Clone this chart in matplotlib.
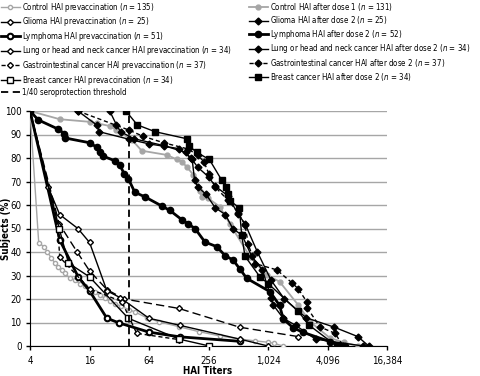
import matplotlib
matplotlib.use('Agg')
from matplotlib import pyplot as plt
from matplotlib import font_manager as fm
from matplotlib.lines import Line2D

# pick a narrow sans face if one is installed
prefer = ['Liberation Sans Narrow', 'DejaVu Sans', 'Roboto', 'Open Sans', 'Noto Sans', 'Liberation Sans']
narrow = [f for f in fm.fontManager.ttflist
          if (f.stretch in ('condensed', 'semi-condensed') or 'Narrow' in f.name or 'Condensed' in f.name)
          and f.style == 'normal']
narrow.sort(key=lambda f: prefer.index(f.name) if f.name in prefer else 99)
if narrow:
    fam, stretch = narrow[0].name, narrow[0].stretch
else:
    fam, stretch = 'Liberation Sans', 'normal'
plt.rcParams['font.family'] = [fam, 'DejaVu Sans']
plt.rcParams['font.stretch'] = stretch
plt.rcParams['mathtext.fontset'] = 'custom'
plt.rcParams['mathtext.it'] = fam + ':italic'
plt.rcParams['mathtext.rm'] = fam

# prevaccination curves (titer, % of subjects)
control_pre_x = [4, 4.9, 5.5, 6.0, 6.6, 7.1, 7.7, 8.4, 9.0, 10.1, 11.3, 12.8, 14.4, 16, 18, 20.4, 23, 25.6, 29, 33,
                 40, 46, 61, 81, 129, 205, 333, 528, 748, 1024, 1189, 1450]
control_pre_y = [100, 44, 42.3, 40, 37.3, 35.5, 33.8, 32.3, 30.9, 29, 28, 26.5, 25.5, 24, 23, 21.5, 20.3, 19, 18, 17,
                 15.5, 14.5, 12, 10.3, 8.2, 6.1, 4.3, 3, 2.2, 1.6, 1.1, 0]
glioma_pre_x = [4, 7.9, 12, 16, 24, 36, 128, 528, 2074]
glioma_pre_y = [100, 52, 40, 32, 24, 20, 16, 8, 4]
lymph_pre_x = [4, 8, 12.3, 16, 24, 32, 64, 131, 533]
lymph_pre_y = [100, 45.1, 29.4, 23.5, 11.8, 9.8, 5.9, 3.9, 2.0]
lung_pre_x = [4, 6.1, 8, 12.2, 16, 24, 32.6, 64, 131, 533, 1024]
lung_pre_y = [100, 67.6, 55.9, 50, 44.1, 23.5, 20.6, 11.8, 8.8, 2.9, 0]
gi_pre_x = [4, 7.6, 8, 16, 34, 48, 130]
gi_pre_y = [100, 51.4, 37.8, 24.3, 18.9, 5.4, 2.7]
breast_pre_x = [4, 7.9, 9.8, 16, 39.5, 130, 261]
breast_pre_y = [100, 50, 35.3, 29.4, 11.8, 2.9, 0]

# post-vaccination curves
control_post_x = [4, 8, 16, 19, 25.6, 30, 43, 54, 97, 122, 137, 154, 180, 210, 218, 255, 333, 420, 673, 993,
                  1340, 2074, 2725, 4340, 6000, 8340]
control_post_y = [100, 96.5, 95.4, 94.8, 93.6, 92, 87.7, 83.1, 81.3, 79.4, 78.4, 76.3, 72.8, 66, 63.5, 62.8, 59.3,
                  52, 38, 30.2, 27.4, 17.4, 10.3, 3.4, 1.5, 0]
glioma_post_x = [12.2, 19, 20, 40, 64, 128, 170, 200, 256, 300, 400, 512, 600, 800, 1100, 1500, 2500, 4800, 8300,
                 10700]
glioma_post_y = [100, 94, 91.2, 88, 86, 84, 80, 76, 72, 68, 64, 56, 52, 40, 28, 20, 12, 8, 4, 0]
lymph_post_x = [4, 4.85, 7.7, 8.9, 9.1, 16, 18.9, 20.4, 21.9, 29, 32.6, 36, 39.5, 46, 58, 86, 104, 137, 160, 187,
                236, 310, 376, 456, 533, 624, 1073, 1340, 1462, 1846, 2320, 4340, 6156]
lymph_post_y = [100, 96.2, 92.3, 90.4, 88.5, 86.5, 84.6, 82.7, 80.8, 78.8, 76.9, 73.1, 71.2, 65.4, 63.5, 59.6, 57.7,
                53.8, 51.9, 50, 44.2, 42.3, 38.5, 36.5, 32.7, 28.8, 23.1, 17.3, 11.5, 7.7, 5.8, 1.9, 0]
lung_post_x = [25.6, 30, 33, 45, 90, 150, 175, 185, 200, 240, 300, 380, 450, 560, 700, 900, 1100, 1150, 1460, 1950,
               3100, 9400]
lung_post_y = [100, 94.1, 91.2, 88.2, 85.3, 82.4, 79.4, 70.6, 67.6, 64.7, 58.8, 55.9, 50, 47.1, 38.2, 32.4, 20.6,
               17.6, 11.8, 8.8, 2.9, 0]
gi_post_x = [12.2, 40, 56, 90, 160, 200, 230, 260, 300, 400, 512, 600, 647, 756, 1254, 1779, 2074, 2521, 2560, 3440,
             4877, 5910]
gi_post_y = [100, 91.9, 89.2, 86.5, 83.8, 81.1, 78.4, 73, 67.6, 62.2, 56.8, 51.4, 43.2, 35.1, 32.4, 27, 24.3, 18.9,
             16.2, 8.1, 5.4, 0]
breast_post_x = [37.4, 48.7, 73.6, 154, 162, 194, 261, 348, 385, 406, 423, 525, 555, 599, 850, 1032, 2074, 2680, 5074]
breast_post_y = [100, 94.1, 91.2, 88.2, 85.3, 82.4, 79.4, 70.6, 67.6, 64.7, 61.8, 58.8, 47.1, 38.2, 29.4, 26.5,
                 14.7, 8.8, 0]

pre_labels = ['Control HAI prevaccination ($\\it{n}$ = 135)', 'Glioma HAI prevaccination ($\\it{n}$ = 25)',
              'Lymphoma HAI prevaccination ($\\it{n}$ = 51)',
              'Lung or head and neck cancer HAI prevaccination ($\\it{n}$ = 34)',
              'Gastrointestinal cancer HAI prevaccination ($\\it{n}$ = 37)',
              'Breast cancer HAI prevaccination ($\\it{n}$ = 34)']
post_labels = ['Control HAI after dose 1 ($\\it{n}$ = 131)', 'Glioma HAI after dose 2 ($\\it{n}$ = 25)',
               'Lymphoma HAI after dose 2 ($\\it{n}$ = 52)',
               'Lung or head and neck cancer HAI after dose 2 ($\\it{n}$ = 34)',
               'Gastrointestinal cancer HAI after dose 2 ($\\it{n}$ = 37)',
               'Breast cancer HAI after dose 2 ($\\it{n}$ = 34)']
threshold = 40

gray = '#a6a6a6'
fig = plt.figure(figsize=(4.8, 3.76), dpi=100)
ax = fig.add_axes([30 / 480, 30 / 376, 357 / 480, 235 / 376])

# size the legend text so the longest entry is as wide as in the original
renderer = fig.canvas.get_renderer()
probe = fig.text(0, 0, pre_labels[3], fontsize=10)
w = probe.get_window_extent(renderer).width
probe.remove()
fs = min(7.5, 10 * 208 / w)

pre = [(control_pre_x, control_pre_y, dict(color=gray, lw=1, marker='o', ms=3, mfc='white', mec=gray)),
       (glioma_pre_x, glioma_pre_y, dict(color='black', lw=1, marker='D', ms=3, mfc='white', mec='black')),
       (lymph_pre_x, lymph_pre_y, dict(color='black', lw=2, marker='o', ms=4, mfc='white', mec='black', mew=1.5)),
       (lung_pre_x, lung_pre_y, dict(color='black', lw=1, marker='D', ms=3, mfc='white', mec='black')),
       (gi_pre_x, gi_pre_y, dict(color='black', lw=1, ls=(0, (3, 2)), marker='D', ms=3, mfc='white', mec='black')),
       (breast_pre_x, breast_pre_y, dict(color='black', lw=1, marker='s', ms=5, mfc='white', mec='black'))]
post = [(control_post_x, control_post_y, dict(color=gray, lw=1.3, marker='o', ms=3.5, mfc=gray, mec=gray)),
        (glioma_post_x, glioma_post_y, dict(color='black', lw=1, marker='D', ms=3.5, mfc='black')),
        (lymph_post_x, lymph_post_y, dict(color='black', lw=2, marker='o', ms=4.5, mfc='black')),
        (lung_post_x, lung_post_y, dict(color='black', lw=1, marker='D', ms=3.5, mfc='black')),
        (gi_post_x, gi_post_y, dict(color='black', lw=1, ls=(0, (3, 2)), marker='D', ms=3.5, mfc='black')),
        (breast_post_x, breast_post_y, dict(color='black', lw=1, marker='s', ms=4, mfc='black'))]

pre_handles = []
for i, ((x, y, kw), lab) in enumerate(zip(pre, pre_labels)):
    if i == 1:
        # glioma prevaccination appears with long dashes in the plot area
        ax.plot(x, y, zorder=3, **dict(kw, ls=(0, (6, 3))))
        pre_handles.append(Line2D([], [], label=lab, **kw))
    else:
        h, = ax.plot(x, y, label=lab, zorder=3, **kw)
        pre_handles.append(h)
thr, = ax.plot([threshold, threshold], [0, 100], color='black', lw=1.3, ls=(0, (4, 2.5)),
               label='1/40 seroprotection threshold', zorder=4)
pre_handles.append(thr)
post_handles = []
for (x, y, kw), lab in zip(post, post_labels):
    h, = ax.plot(x, y, label=lab, zorder=3, **kw)
    post_handles.append(h)

ax.set_xscale('log', base=2)
ax.set_xlim(4, 16384)
ax.set_ylim(0, 100)
ticks = [4, 16, 64, 256, 1024, 4096, 16384]
ax.set_xticks(ticks)
ax.set_xticklabels(['4', '16', '64', '256', '1,024', '4,096', '16,384'])
ax.minorticks_off()
ax.set_yticks(range(0, 101, 10))
ax.tick_params(labelsize=7, length=3, width=1, direction='out')
ax.tick_params(axis='x', pad=4.5)
ax.tick_params(axis='y', pad=3)
ax.yaxis.grid(True, color='#a6a6a6', lw=1)
ax.set_axisbelow(True)
for s in ['top', 'right']:
    ax.spines[s].set_visible(False)
ax.set_xlabel('HAI Titers', fontsize=7, fontweight='bold', va='center')
ax.xaxis.set_label_coords(178 / 357, -24.5 / 235)
ax.set_ylabel('Subjects (%)', fontsize=7, fontweight='bold', va='center')
ax.yaxis.set_label_coords(-24 / 357, 0.5)

leg_kw = dict(loc='upper left', frameon=False, fontsize=fs, handlelength=2.4, handletextpad=0.25,
              labelspacing=0.2, borderaxespad=0, borderpad=0.1)
fig.legend(handles=pre_handles, bbox_to_anchor=(0.0, 1.0), **leg_kw)
fig.legend(handles=post_handles, bbox_to_anchor=(248 / 480, 1.0), **leg_kw)

fig.savefig('out.png', dpi=100)
